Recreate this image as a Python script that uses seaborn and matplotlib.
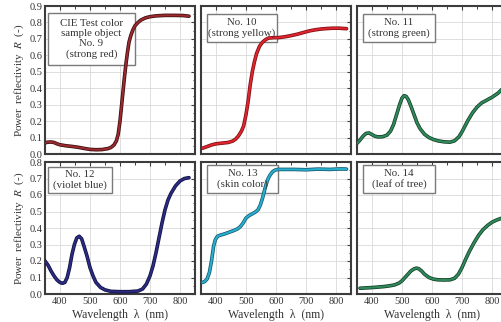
import matplotlib
matplotlib.use("Agg")
import matplotlib.pyplot as plt
import matplotlib.patheffects as pe
from matplotlib.patches import Rectangle
from matplotlib.ticker import MultipleLocator
import seaborn as sns
import pandas as pd

# ---------------- data ----------------
wl9 = [350,360,370,380,390,400,420,440,460,480,500,520,540,560,570,580,588,594,600,605,610,615,620,625,630,636,643,650,660,670,685,700,720,750,780,810,830]
r9 = [0.068,0.072,0.073,0.07,0.062,0.056,0.05,0.046,0.041,0.034,0.028,0.026,0.027,0.033,0.04,0.055,0.08,0.12,0.2,0.29,0.38,0.47,0.55,0.62,0.68,0.72,0.755,0.78,0.80,0.815,0.828,0.835,0.84,0.843,0.843,0.842,0.838]

wl10 = [355,370,385,400,420,440,455,465,475,485,492,500,507,514,521,528,535,545,555,565,575,590,610,630,650,670,690,710,730,750,770,790,810,835]
r10 = [0.035,0.045,0.055,0.062,0.066,0.07,0.078,0.09,0.11,0.14,0.17,0.24,0.32,0.42,0.5,0.56,0.61,0.655,0.68,0.695,0.705,0.707,0.708,0.713,0.72,0.728,0.738,0.748,0.755,0.76,0.763,0.765,0.765,0.762]

wl11 = [350,360,370,380,390,400,410,420,435,450,462,472,482,492,500,507,514,521,530,540,550,560,575,590,605,620,640,660,675,690,700,710,720,735,750,765,780,800,820,840]
r11 = [0.065,0.085,0.108,0.125,0.128,0.118,0.108,0.104,0.105,0.115,0.14,0.18,0.24,0.3,0.34,0.355,0.35,0.33,0.29,0.24,0.19,0.155,0.12,0.1,0.088,0.08,0.074,0.072,0.08,0.105,0.135,0.17,0.205,0.25,0.285,0.31,0.325,0.345,0.37,0.405]

wl12 = [350,360,370,380,390,400,408,416,424,432,440,448,456,464,472,480,490,500,510,520,535,550,570,600,630,660,675,688,700,710,720,730,740,750,760,770,785,800,815,830]
r12 = [0.2,0.175,0.14,0.11,0.085,0.07,0.065,0.07,0.1,0.16,0.24,0.3,0.34,0.35,0.335,0.29,0.23,0.16,0.11,0.07,0.04,0.025,0.016,0.014,0.014,0.018,0.03,0.06,0.11,0.17,0.25,0.34,0.43,0.51,0.57,0.61,0.655,0.685,0.7,0.705]

wl13 = [355,362,370,378,385,392,398,405,415,430,445,460,472,482,492,500,510,520,530,540,548,555,562,568,574,580,588,596,605,620,640,660,680,700,720,740,760,780,800,820,835]
r13 = [0.07,0.075,0.09,0.13,0.2,0.29,0.33,0.35,0.357,0.365,0.375,0.385,0.395,0.41,0.435,0.46,0.475,0.485,0.495,0.51,0.54,0.58,0.63,0.67,0.7,0.72,0.74,0.75,0.755,0.755,0.755,0.755,0.754,0.753,0.755,0.757,0.756,0.755,0.757,0.758,0.757]

wl14 = [360,380,400,420,440,460,475,490,500,510,520,530,540,548,556,565,575,590,605,620,640,660,675,688,700,712,725,740,755,770,785,800,815,830,845]
r14 = [0.035,0.037,0.039,0.042,0.045,0.05,0.055,0.066,0.08,0.1,0.12,0.14,0.152,0.157,0.153,0.14,0.12,0.1,0.09,0.086,0.085,0.086,0.095,0.12,0.16,0.21,0.26,0.31,0.355,0.39,0.415,0.435,0.448,0.458,0.465]

labels = ["CIE Test color\nsample object\nNo. 9\n(strong red)",
          "No. 10\n(strong yellow)", "No. 11\n(strong green)",
          "No. 12\n(violet blue)", "No. 13\n(skin color)", "No. 14\n(leaf of tree)"]
colors = ["#9a2a2e", "#e0242e", "#2f8a5a", "#2b2b82", "#2aaed0", "#2f8a5a"]
edges = ["#3a0d10", "#7a1015", "#143d28", "#111140", "#135a6e", "#143d28"]
series = [(wl9, r9), (wl10, r10), (wl11, r11), (wl12, r12), (wl13, r13), (wl14, r14)]
xticks = [400, 500, 600, 700, 800]

# ---------------- style ----------------
sns.set_theme(style="white")
plt.rcParams['font.family'] = ['Liberation Serif', 'DejaVu Serif']
plt.rcParams['mathtext.fontset'] = 'stix'

W, H = 502, 322
fig = plt.figure(figsize=(W / 100, H / 100), dpi=100)

lefts = [45, 201, 357]
aw = 150
rows = [(6, 154, 0.9), (162, 294, 0.8)]  # top px, bottom px, ymax

box_px = [
    (48, 135, 13, 65),
    (207, 277, 14, 42),
    (363, 435, 14, 42),
    (48, 112, 167, 193),
    (207, 278, 165, 193),
    (363, 435, 165, 193),
]

spine_c = "#3c3c3c"
for i in range(6):
    r, c = divmod(i, 3)
    top, bot, ymax = rows[r]
    ax = fig.add_axes([lefts[c] / W, (H - bot) / H, aw / W, (bot - top) / H])
    wl, rv = series[i]
    df = pd.DataFrame({"wl": wl, "R": rv})
    sns.lineplot(data=df, x="wl", y="R", ax=ax, color=colors[i], lw=1.5, zorder=7,
                 path_effects=[pe.Stroke(linewidth=2.6, foreground=edges[i]), pe.Normal()])
    ax.set_xlim(350, 850)
    ax.set_ylim(0, ymax)
    ax.xaxis.set_major_locator(MultipleLocator(100))
    ax.xaxis.set_minor_locator(MultipleLocator(50))
    ax.yaxis.set_major_locator(MultipleLocator(0.1))
    ax.yaxis.set_minor_locator(MultipleLocator(0.05))
    ax.grid(True, which="major", color="#d9d9d9", lw=0.6, zorder=0)
    ax.tick_params(which="both", direction="in", top=True, right=True,
                   color=spine_c, labelsize=7.5, pad=2, labelcolor="#333333")
    ax.tick_params(which="major", length=3, width=0.8)
    ax.tick_params(which="minor", length=1.8, width=0.7)
    for s in ax.spines.values():
        s.set_color(spine_c)
        s.set_linewidth(1.5)
    ax.set_xticks(xticks)
    if r == 0:
        ax.set_xticklabels([])
        ax.set_xlabel("")
    else:
        ax.set_xlabel("Wavelength  λ  (nm)", fontsize=8.5, color="#333333", labelpad=2)
    if c == 0:
        ax.set_yticklabels([f"{v:.1f}" for v in ax.get_yticks()])
        ax.set_ylabel("Power  reflectivity  $R$  (-)", fontsize=8, color="#333333", labelpad=2)
    else:
        ax.set_yticklabels([])
        ax.set_ylabel("")
    x0, x1, y0, y1 = box_px[i]
    bx0 = (x0 - lefts[c]) / aw
    bx1 = (x1 - lefts[c]) / aw
    by0 = (bot - y1) / (bot - top)
    by1 = (bot - y0) / (bot - top)
    ax.add_patch(Rectangle((bx0, by0), bx1 - bx0, by1 - by0, transform=ax.transAxes,
                           facecolor="white", edgecolor="#7a7a7a", lw=1.0, zorder=4))
    ax.text((bx0 + bx1) / 2, (by0 + by1) / 2, labels[i], transform=ax.transAxes,
            ha="center", va="center", fontsize=7.8, color="#333333", zorder=9,
            linespacing=1.12)

fig.savefig("out.png", dpi=100)
